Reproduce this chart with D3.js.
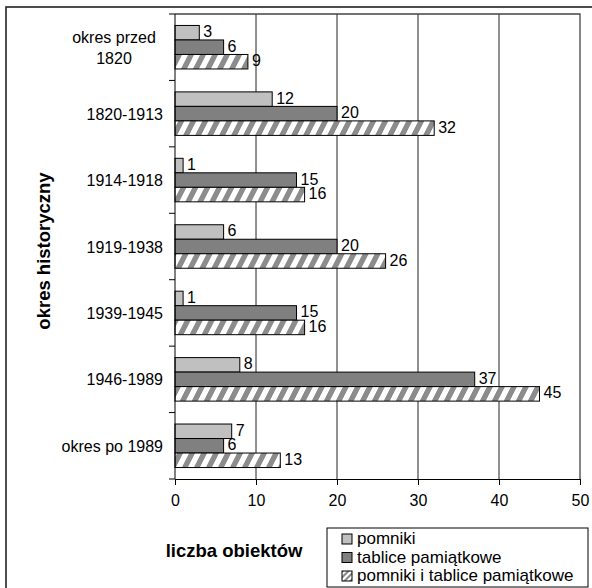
<!DOCTYPE html>
<html><head><meta charset="utf-8">
<script src="https://cdn.jsdelivr.net/npm/d3@7"></script>
<style>html,body{margin:0;padding:0;background:#fff;}svg{display:block;font-family:"Liberation Sans",Arial,sans-serif;}</style>
</head><body>
<svg id="c" width="592" height="588"></svg>
<script>
const categories = ["okres przed\n1820", "1820-1913", "1914-1918", "1919-1938", "1939-1945", "1946-1989", "okres po 1989"];
const seriesNames = ["pomniki", "tablice pamiątkowe", "pomniki i tablice pamiątkowe"];
const pomniki = [3, 12, 1, 6, 1, 8, 7];
const tablice = [6, 20, 15, 20, 15, 37, 6];
const pomnikiITablice = [9, 32, 16, 26, 16, 45, 13];
const xTicks = [0, 10, 20, 30, 40, 50];
const xTitle = "liczba obiektów";
const yTitle = "okres historyczny";

const seriesValues = [pomniki, tablice, pomnikiITablice];
const fills = ["#c0c0c0", "#808080", "url(#hatch)"];

const svg = d3.select("#c");
const defs = svg.append("defs");
const pat = defs.append("pattern").attr("id", "hatch").attr("patternUnits", "userSpaceOnUse")
  .attr("width", 12).attr("height", 12).attr("patternTransform", "skewX(-27)");
pat.append("rect").attr("width", 12).attr("height", 12).attr("fill", "#fff");
pat.append("rect").attr("x", 0).attr("width", 6).attr("height", 12).attr("fill", "#8c8c8c");
const pat2 = defs.append("pattern").attr("id", "hatchS").attr("patternUnits", "userSpaceOnUse")
  .attr("width", 6).attr("height", 6).attr("patternTransform", "skewX(-45)");
pat2.append("rect").attr("width", 6).attr("height", 6).attr("fill", "#fff");
pat2.append("rect").attr("width", 3).attr("height", 6).attr("fill", "#8c8c8c");

// outer frame
svg.append("rect").attr("x", 6).attr("y", 7).attr("width", 620).attr("height", 620)
  .attr("fill", "none").attr("stroke", "#222").attr("stroke-width", 1.6);

const L = 175, R = 580, T = 14, B = 479;
const x = d3.scaleLinear().domain([0, 50]).range([L, R]);
const y0 = d3.scaleBand().domain(categories).range([T, B]).padding(0);
const y1 = d3.scaleBand().domain([0, 1, 2]).range([0, y0.bandwidth()]).paddingInner(0).paddingOuter(0.79);

// gridlines
svg.append("g").selectAll("line").data(xTicks.filter(d => d > 0 && d < 50)).join("line")
  .attr("x1", d => x(d)).attr("x2", d => x(d)).attr("y1", T).attr("y2", B)
  .attr("stroke", "#222").attr("stroke-width", 1);

// plot border (top/right)
svg.append("path").attr("d", `M${L},${T}H${R}V${B}`).attr("fill", "none")
  .attr("stroke", "#444").attr("stroke-width", 1.3);

// bars
const g = svg.append("g");
categories.forEach((c, i) => {
  seriesValues.forEach((vals, s) => {
    const yy = y0(c) + y1(s);
    const h = y1.bandwidth();
    g.append("rect").attr("x", x(0)).attr("y", yy).attr("width", x(vals[i]) - x(0)).attr("height", h)
      .attr("fill", fills[s]).attr("stroke", "#000").attr("stroke-width", 1);
    g.append("text").attr("x", x(vals[i]) + 4).attr("y", yy + h / 2 - 1)
      .attr("dominant-baseline", "central").attr("font-size", 16).attr("fill", "#000").text(vals[i]);
  });
});

// x axis
const xa = svg.append("g").attr("transform", `translate(0,${B})`)
  .call(d3.axisBottom(x).tickValues(xTicks).tickSize(6).tickPadding(10).tickSizeOuter(0));
xa.select(".domain").attr("stroke", "#000");
xa.selectAll(".tick line").attr("stroke", "#000");
xa.selectAll("text").attr("font-size", 16).attr("font-family", "Liberation Sans, Arial, sans-serif").attr("fill", "#000");

// y axis line + boundary ticks
svg.append("line").attr("x1", L).attr("x2", L).attr("y1", T).attr("y2", B).attr("stroke", "#000");
const bounds = categories.map(c => y0(c)).concat([y0.range()[1]]);
svg.append("g").selectAll("line").data(bounds).join("line")
  .attr("x1", L - 6).attr("x2", L).attr("y1", d => d).attr("y2", d => d).attr("stroke", "#000");

// category labels
categories.forEach(c => {
  const lines = c.split("\n");
  const cy = y0(c) + y0.bandwidth() / 2;
  const t = svg.append("text").attr("font-size", 16).attr("fill", "#000")
    .attr("text-anchor", lines.length > 1 ? "middle" : "end");
  const xx = lines.length > 1 ? 114 : 163;
  lines.forEach((ln, k) => {
    t.append("tspan").attr("x", xx).attr("y", cy + (k - (lines.length - 1) / 2) * 21 + 6).text(ln);
  });
});

// titles
svg.append("text").attr("transform", `translate(50,251) rotate(-90)`).attr("text-anchor", "middle")
  .attr("font-size", 18.5).attr("font-weight", "bold").attr("fill", "#000").text(yTitle);
svg.append("text").attr("x", 234).attr("y", 557).attr("text-anchor", "middle")
  .attr("font-size", 18.5).attr("font-weight", "bold").attr("fill", "#000").text(xTitle);

// legend
const lg = svg.append("g");
lg.append("rect").attr("x", 327).attr("y", 528).attr("width", 261).attr("height", 59)
  .attr("fill", "#fff").attr("stroke", "#000").attr("stroke-width", 1);
const legFills = ["#c0c0c0", "#808080", "url(#hatchS)"];
seriesNames.forEach((n, i) => {
  const by = 544 + i * 18.5;
  lg.append("rect").attr("x", 342).attr("y", by - 10).attr("width", 10).attr("height", 10)
    .attr("fill", legFills[i]).attr("stroke", "#000").attr("stroke-width", 1);
  lg.append("text").attr("x", 357).attr("y", by).attr("font-size", 17).attr("fill", "#000").text(n);
});
</script>
</body></html>
